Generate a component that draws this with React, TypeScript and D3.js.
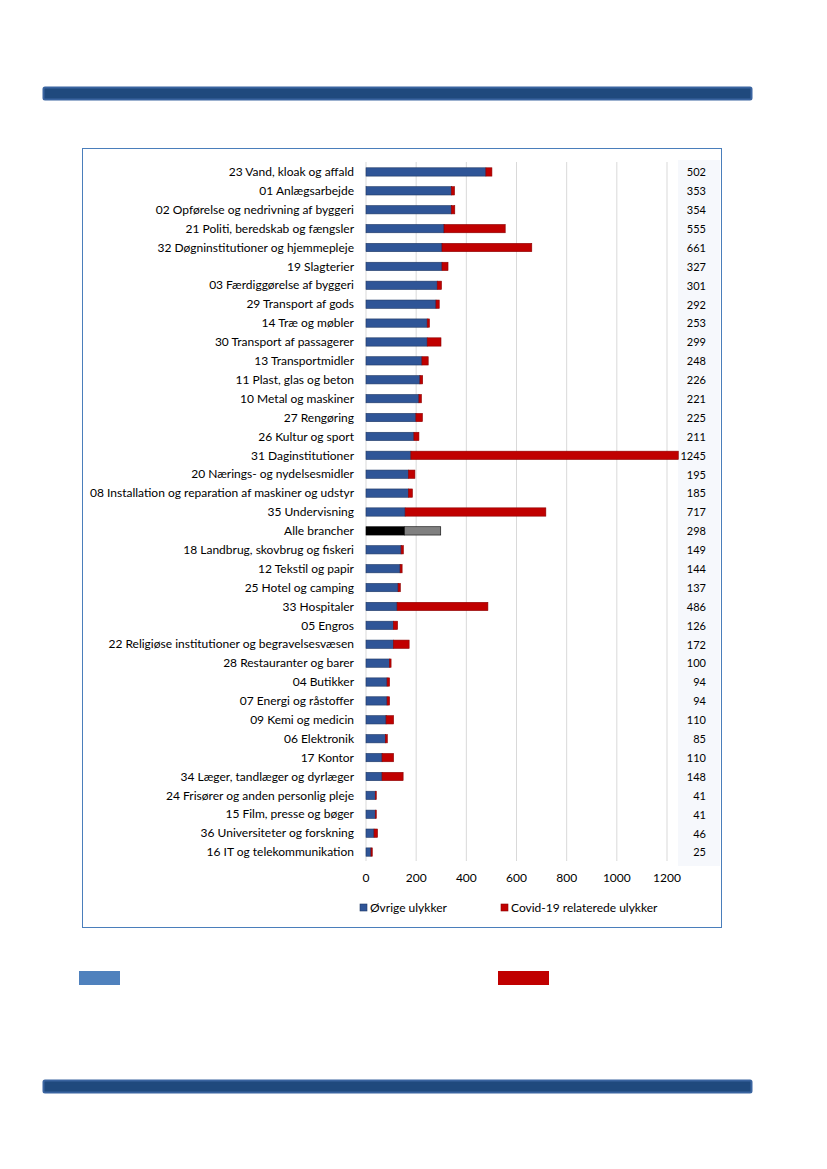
import React, { useEffect, useRef } from 'react';
import * as d3 from 'd3';

const categories = [
  '23 Vand, kloak og affald',
  '01 Anlægsarbejde',
  '02 Opførelse og nedrivning af byggeri',
  '21 Politi, beredskab og fængsler',
  '32 Døgninstitutioner og hjemmepleje',
  '19 Slagterier',
  '03 Færdiggørelse af byggeri',
  '29 Transport af gods',
  '14 Træ og møbler',
  '30 Transport af passagerer',
  '13 Transportmidler',
  '11 Plast, glas og beton',
  '10 Metal og maskiner',
  '27 Rengøring',
  '26 Kultur og sport',
  '31 Daginstitutioner',
  '20 Nærings- og nydelsesmidler',
  '08 Installation og reparation af maskiner og udstyr',
  '35 Undervisning',
  'Alle brancher',
  '18 Landbrug, skovbrug og fiskeri',
  '12 Tekstil og papir',
  '25 Hotel og camping',
  '33 Hospitaler',
  '05 Engros',
  '22 Religiøse institutioner og begravelsesvæsen',
  '28 Restauranter og barer',
  '04 Butikker',
  '07 Energi og råstoffer',
  '09 Kemi og medicin',
  '06 Elektronik',
  '17 Kontor',
  '34 Læger, tandlæger og dyrlæger',
  '24 Frisører og anden personlig pleje',
  '15 Film, presse og bøger',
  '36 Universiteter og forskning',
  '16 IT og telekommunikation',
];

// Øvrige ulykker
const other = [478, 340, 340, 311, 303, 303, 284, 279, 244, 244, 223, 215, 211, 199, 191, 179, 169, 169, 156, 153, 140, 136, 128, 124, 109, 109, 93, 84, 84, 80, 77, 64, 64, 37, 37, 32, 20];
// Covid-19 relaterede ulykker
const covid = [24, 13, 14, 244, 358, 24, 17, 13, 9, 55, 25, 11, 10, 26, 20, 1066, 26, 16, 561, 145, 9, 8, 9, 362, 17, 63, 7, 10, 10, 30, 8, 46, 84, 4, 4, 14, 5];
// totals shown in the right column
const totals = [502, 353, 354, 555, 661, 327, 301, 292, 253, 299, 248, 226, 221, 225, 211, 1245, 195, 185, 717, 298, 149, 144, 137, 486, 126, 172, 100, 94, 94, 110, 85, 110, 148, 41, 41, 46, 25];

const xTicks = [0, 200, 400, 600, 800, 1000, 1200];

const FONT = 'Lato, "Open Sans", sans-serif';

export default function App() {
  const svgRef = useRef<SVGSVGElement>(null);

  useEffect(() => {
    const svg = d3.select(svgRef.current);
    svg.selectAll('*').remove();

    // page decoration bars
    [87, 1080].forEach(y => {
      svg.append('rect')
        .attr('x', 43.5).attr('y', y + 0.5)
        .attr('width', 708).attr('height', 12)
        .attr('rx', 1.5)
        .attr('fill', '#1F497D')
        .attr('stroke', '#3A64A0')
        .attr('stroke-width', 2);
    });

    // chart frame
    svg.append('rect')
      .attr('x', 82.5).attr('y', 148.5)
      .attr('width', 639).attr('height', 779)
      .attr('fill', 'white')
      .attr('stroke', '#4A7EBB')
      .attr('stroke-width', 1);

    const x = d3.scaleLinear().domain([0, 1200]).range([366, 667]);
    const y = d3.scaleBand<string>()
      .domain(categories)
      .range([162.5, 861.5])
      .paddingInner(0.56)
      .paddingOuter(0.28);

    // total column background
    svg.append('rect')
      .attr('x', 678).attr('y', 160)
      .attr('width', 42).attr('height', 706)
      .attr('fill', '#F6F8FC');

    // gridlines
    svg.append('g')
      .selectAll('line')
      .data(xTicks.slice(1))
      .enter()
      .append('line')
      .attr('x1', d => x(d)).attr('x2', d => x(d))
      .attr('y1', 162).attr('y2', 861)
      .attr('stroke', '#D9D9D9')
      .attr('stroke-width', 1);

    // axis line at 0
    svg.append('line')
      .attr('x1', x(0)).attr('x2', x(0))
      .attr('y1', 162).attr('y2', 861)
      .attr('stroke', '#D9D9D9');

    const bars = svg.append('g');
    const bh = y.bandwidth();

    categories.forEach((c, i) => {
      const isAll = c === 'Alle brancher';
      const y0 = y(c)!;
      bars.append('rect')
        .attr('x', x(0)).attr('y', y0)
        .attr('width', x(other[i]) - x(0)).attr('height', bh)
        .attr('fill', isAll ? '#000000' : '#2F5597')
        .attr('stroke', isAll ? '#000000' : '#1F3864')
        .attr('stroke-width', 0.6);
      bars.append('rect')
        .attr('x', x(other[i])).attr('y', y0)
        .attr('width', x(other[i] + covid[i]) - x(other[i])).attr('height', bh)
        .attr('fill', isAll ? '#808080' : '#C00000')
        .attr('stroke', isAll ? '#000000' : '#8B0000')
        .attr('stroke-width', 0.6);
    });

    // category labels
    svg.append('g')
      .selectAll('text')
      .data(categories)
      .enter()
      .append('text')
      .attr('x', 354)
      .attr('y', d => y(d)! + bh / 2)
      .attr('dy', '0.35em')
      .attr('text-anchor', 'end')
      .style('font-family', FONT)
      .style('font-size', '12px')
      .style('fill', '#000')
      .text(d => d);

    // totals
    svg.append('g')
      .selectAll('text')
      .data(categories)
      .enter()
      .append('text')
      .attr('x', 706)
      .attr('y', d => y(d)! + bh / 2 + 0.5)
      .attr('dy', '0.35em')
      .attr('text-anchor', 'end')
      .style('font-family', FONT)
      .style('font-size', '11px')
      .style('fill', '#000')
      .text((d, i) => totals[i]);

    // x tick labels
    svg.append('g')
      .selectAll('text')
      .data(xTicks)
      .enter()
      .append('text')
      .attr('x', d => x(d))
      .attr('y', 878)
      .attr('dy', '0.35em')
      .attr('text-anchor', 'middle')
      .style('font-family', FONT)
      .style('font-size', '12px')
      .style('fill', '#000')
      .text(d => d);

    // legend
    const legend = [
      { label: 'Øvrige ulykker', color: '#2F5597', stroke: '#1F3864', x: 360 },
      { label: 'Covid-19 relaterede ulykker', color: '#C00000', stroke: '#8B0000', x: 501 },
    ];
    legend.forEach(l => {
      svg.append('rect')
        .attr('x', l.x).attr('y', 904)
        .attr('width', 7).attr('height', 7)
        .attr('fill', l.color)
        .attr('stroke', l.stroke)
        .attr('stroke-width', 0.6);
      svg.append('text')
        .attr('x', l.x + 10).attr('y', 907.5)
        .attr('dy', '0.35em')
        .style('font-family', FONT)
        .style('font-size', '12px')
        .style('fill', '#000')
        .text(l.label);
    });

    // swatches below the chart
    svg.append('rect')
      .attr('x', 79).attr('y', 971)
      .attr('width', 41).attr('height', 14)
      .attr('fill', '#4F81BD');
    svg.append('rect')
      .attr('x', 498).attr('y', 971)
      .attr('width', 51).attr('height', 14)
      .attr('fill', '#C00000');
  }, []);

  return (
    <div style={{ position: 'absolute', left: 0, top: 0 }}>
      <svg ref={svgRef} width={827} height={1169} style={{ display: 'block' }}></svg>
    </div>
  );
}
